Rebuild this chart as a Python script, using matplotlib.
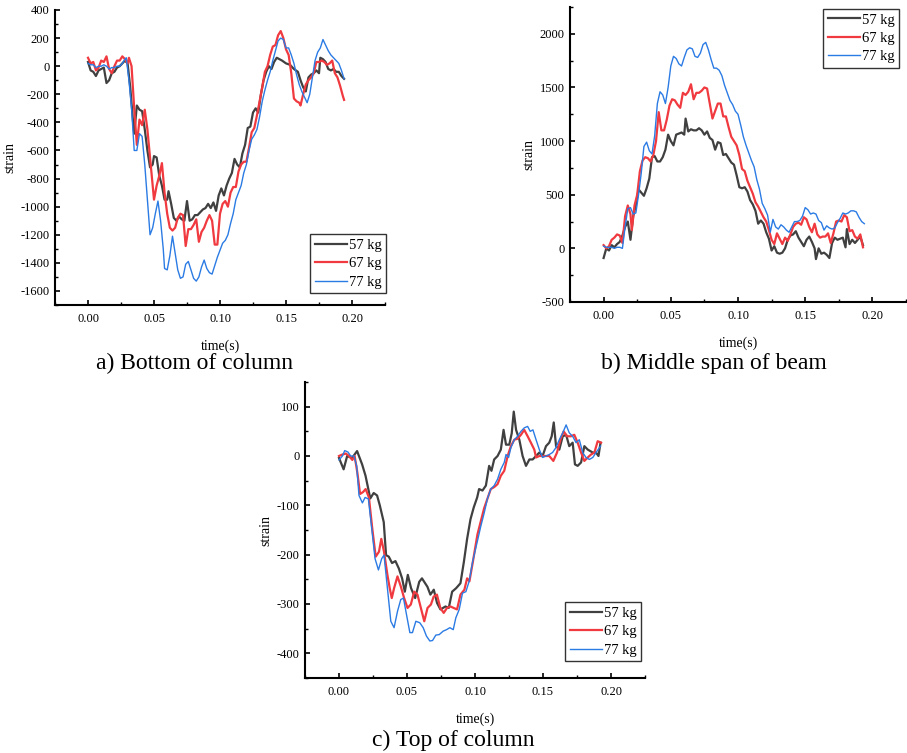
import matplotlib
matplotlib.use("Agg")
import matplotlib.pyplot as plt
import numpy as np

plt.rcParams['font.family'] = ['Liberation Serif', 'DejaVu Serif']
plt.rcParams['axes.unicode_minus'] = False

# ---------------- data (time s, strain) ----------------
bottom_57 = [(0.000,30),(0.002,-30),(0.004,-40),(0.006,-70),(0.008,-30),(0.010,-20),(0.012,-10),(0.014,-120),
             (0.016,-100),(0.018,-50),(0.020,-40),(0.022,-10),(0.024,0),(0.026,20),(0.028,40),(0.030,20),
             (0.032,-150),(0.034,-380),(0.035,-480),(0.037,-280),(0.039,-310),(0.041,-320),(0.043,-450),
             (0.045,-600),(0.047,-720),(0.049,-700),(0.050,-640),(0.052,-650),(0.054,-780),(0.056,-850),
             (0.058,-950),(0.060,-950),(0.061,-890),(0.063,-980),(0.065,-1080),(0.067,-1100),(0.069,-1070),
             (0.071,-1090),(0.073,-1100),(0.075,-960),(0.077,-1100),(0.079,-1090),(0.081,-1060),(0.083,-1060),
             (0.085,-1040),(0.087,-1020),(0.089,-1010),(0.091,-980),(0.093,-1010),(0.095,-970),(0.097,-1030),
             (0.099,-920),(0.101,-870),(0.103,-920),(0.105,-850),(0.107,-800),(0.109,-760),(0.111,-660),
             (0.113,-700),(0.115,-720),(0.117,-620),(0.119,-560),(0.121,-440),(0.123,-430),(0.125,-330),
             (0.127,-300),(0.129,-330),(0.131,-200),(0.133,-100),(0.135,-40),(0.137,0),(0.139,-20),(0.141,30),
             (0.143,60),(0.145,50),(0.147,40),(0.150,20),(0.153,10),(0.156,-20),(0.159,-40),(0.161,-100),
             (0.163,-150),(0.165,-180),(0.167,-80),(0.169,-60),(0.171,-50),(0.173,-30),(0.175,-50),(0.176,60),
             (0.178,50),(0.180,30),(0.182,-20),(0.184,-30),(0.186,-20),(0.188,-40),(0.190,-40),(0.192,-70),
             (0.194,-90)]
bottom_67 = [(0.000,60),(0.002,20),(0.004,30),(0.006,-30),(0.008,-10),(0.010,40),(0.012,30),(0.014,70),
             (0.016,-20),(0.018,-50),(0.020,0),(0.022,40),(0.024,40),(0.026,70),(0.028,50),(0.030,20),
             (0.031,60),(0.033,0),(0.035,-300),(0.037,-560),(0.039,-380),(0.041,-420),(0.043,-310),
             (0.045,-450),(0.047,-650),(0.049,-850),(0.050,-950),(0.052,-850),(0.054,-780),(0.056,-690),
             (0.058,-900),(0.060,-1050),(0.062,-1150),(0.064,-1170),(0.066,-1150),(0.068,-1080),(0.070,-1050),
             (0.072,-1060),(0.074,-1280),(0.076,-1160),(0.078,-1160),(0.080,-1130),(0.082,-1090),(0.084,-1250),
             (0.086,-1180),(0.088,-1150),(0.090,-1100),(0.092,-1060),(0.094,-1100),(0.096,-1270),(0.098,-1270),
             (0.100,-1050),(0.102,-980),(0.104,-960),(0.106,-1000),(0.108,-900),(0.110,-860),(0.112,-860),
             (0.114,-750),(0.116,-700),(0.118,-680),(0.120,-680),(0.122,-580),(0.124,-470),(0.126,-440),
             (0.128,-350),(0.130,-250),(0.132,-150),(0.134,-40),(0.136,0),(0.138,80),(0.140,140),(0.142,150),
             (0.144,220),(0.146,250),(0.148,200),(0.150,120),(0.152,80),(0.154,-50),(0.156,-230),(0.158,-250),
             (0.160,-260),(0.161,-280),(0.163,-200),(0.165,-130),(0.167,-100),(0.169,-80),(0.171,-50),
             (0.173,30),(0.175,30),(0.177,40),(0.179,30),(0.181,10),(0.183,20),(0.185,40),(0.187,-50),
             (0.189,-80),(0.191,-140),(0.193,-210),(0.194,-240)]
bottom_77 = [(0.000,20),(0.002,10),(0.004,10),(0.006,-10),(0.008,0),(0.010,0),(0.012,10),(0.014,0),
             (0.016,-20),(0.018,-10),(0.020,-10),(0.022,0),(0.024,0),(0.026,20),(0.028,50),(0.029,60),
             (0.031,-100),(0.033,-300),(0.035,-600),(0.037,-600),(0.039,-480),(0.041,-500),(0.043,-700),
             (0.045,-950),(0.047,-1200),(0.049,-1150),(0.051,-1050),(0.053,-960),(0.055,-1100),(0.057,-1300),
             (0.058,-1440),(0.060,-1450),(0.062,-1350),(0.064,-1210),(0.066,-1330),(0.068,-1450),(0.070,-1510),
             (0.072,-1500),(0.074,-1410),(0.076,-1390),(0.078,-1450),(0.080,-1510),(0.082,-1530),(0.084,-1500),
             (0.086,-1430),(0.088,-1380),(0.090,-1440),(0.092,-1470),(0.094,-1480),(0.096,-1420),(0.098,-1360),
             (0.100,-1310),(0.102,-1260),(0.104,-1240),(0.106,-1200),(0.108,-1120),(0.110,-1050),(0.112,-950),
             (0.114,-900),(0.116,-850),(0.118,-760),(0.120,-700),(0.122,-600),(0.124,-520),(0.126,-490),
             (0.128,-450),(0.130,-360),(0.132,-250),(0.134,-170),(0.136,-100),(0.138,-40),(0.140,40),
             (0.142,110),(0.144,180),(0.146,200),(0.148,190),(0.150,130),(0.152,130),(0.154,80),(0.156,20),
             (0.158,-60),(0.160,-130),(0.162,-180),(0.164,-220),(0.166,-260),(0.168,-200),(0.170,-80),
             (0.172,40),(0.174,100),(0.176,130),(0.178,190),(0.180,150),(0.182,110),(0.184,80),(0.186,60),
             (0.188,40),(0.190,20),(0.192,-30),(0.194,-90)]

beam_57 = [(0.000,-90),(0.002,0),(0.004,-20),(0.006,30),(0.008,10),(0.010,40),(0.012,60),(0.014,120),
           (0.016,200),(0.018,250),(0.020,80),(0.022,300),(0.024,400),(0.026,550),(0.028,520),(0.030,490),
           (0.032,560),(0.034,650),(0.036,850),(0.038,860),(0.040,810),(0.042,810),(0.044,850),(0.046,920),
           (0.048,1060),(0.050,1000),(0.052,960),(0.054,1060),(0.056,1070),(0.058,1080),(0.060,1060),
           (0.061,1210),(0.063,1090),(0.065,1110),(0.067,1100),(0.069,1100),(0.071,1120),(0.073,1100),
           (0.075,1060),(0.077,1090),(0.079,1030),(0.081,1010),(0.083,920),(0.085,990),(0.087,980),
           (0.089,870),(0.091,880),(0.093,840),(0.095,800),(0.097,780),(0.099,680),(0.101,570),(0.103,560),
           (0.105,570),(0.107,530),(0.109,450),(0.111,410),(0.113,350),(0.115,230),(0.117,260),(0.119,230),
           (0.121,150),(0.123,90),(0.125,-20),(0.127,20),(0.129,-40),(0.131,-50),(0.133,-40),(0.135,0),
           (0.137,80),(0.139,120),(0.141,130),(0.143,160),(0.145,100),(0.147,60),(0.149,20),(0.151,80),
           (0.153,110),(0.155,60),(0.157,0),(0.158,-100),(0.160,0),(0.162,-50),(0.164,-40),(0.166,-60),
           (0.168,-90),(0.170,50),(0.172,100),(0.174,80),(0.176,90),(0.178,100),(0.180,10),(0.181,180),
           (0.183,40),(0.185,80),(0.187,50),(0.189,80),(0.191,110),(0.193,30)]
beam_67 = [(0.000,30),(0.002,0),(0.004,20),(0.006,80),(0.008,100),(0.010,130),(0.012,120),(0.014,50),
           (0.016,300),(0.018,400),(0.020,320),(0.021,170),(0.023,400),(0.025,500),(0.027,720),(0.029,820),
           (0.031,850),(0.033,840),(0.035,810),(0.037,870),(0.039,1000),(0.041,1270),(0.043,1100),
           (0.045,1100),(0.047,1200),(0.049,1330),(0.051,1390),(0.053,1380),(0.055,1340),(0.057,1310),
           (0.059,1450),(0.061,1430),(0.063,1460),(0.065,1530),(0.067,1390),(0.069,1450),(0.071,1450),
           (0.073,1470),(0.075,1500),(0.077,1490),(0.079,1350),(0.081,1210),(0.083,1280),(0.085,1350),
           (0.087,1350),(0.089,1230),(0.091,1230),(0.093,1130),(0.095,1040),(0.097,1000),(0.099,960),
           (0.101,870),(0.103,740),(0.105,720),(0.107,630),(0.109,570),(0.111,510),(0.113,430),(0.115,390),
           (0.117,340),(0.119,290),(0.121,250),(0.123,170),(0.125,80),(0.127,40),(0.129,140),(0.131,90),
           (0.133,40),(0.135,100),(0.137,70),(0.139,130),(0.141,200),(0.143,230),(0.145,240),(0.147,220),
           (0.149,290),(0.151,270),(0.153,200),(0.155,150),(0.157,230),(0.159,130),(0.161,100),(0.163,110),
           (0.165,110),(0.167,140),(0.169,50),(0.171,140),(0.173,250),(0.175,260),(0.177,250),(0.179,310),
           (0.181,290),(0.183,160),(0.185,170),(0.187,110),(0.189,90),(0.191,130),(0.193,10)]
beam_77 = [(0.000,20),(0.002,10),(0.004,10),(0.006,10),(0.008,0),(0.010,10),(0.012,10),(0.014,0),
           (0.016,200),(0.018,370),(0.020,380),(0.022,320),(0.024,330),(0.026,500),(0.028,700),(0.030,950),
           (0.032,990),(0.034,910),(0.036,880),(0.038,1050),(0.040,1350),(0.042,1460),(0.044,1430),
           (0.046,1350),(0.048,1500),(0.050,1700),(0.052,1790),(0.054,1770),(0.056,1720),(0.058,1700),
           (0.060,1780),(0.062,1850),(0.064,1870),(0.066,1860),(0.068,1790),(0.070,1780),(0.072,1820),
           (0.074,1900),(0.076,1920),(0.078,1850),(0.080,1760),(0.082,1680),(0.084,1680),(0.086,1660),
           (0.088,1610),(0.090,1520),(0.092,1450),(0.094,1380),(0.096,1340),(0.098,1280),(0.100,1250),
           (0.102,1150),(0.104,1040),(0.106,960),(0.108,890),(0.110,820),(0.112,760),(0.114,640),(0.116,550),
           (0.118,420),(0.120,370),(0.122,310),(0.124,150),(0.126,270),(0.128,200),(0.130,180),(0.132,220),
           (0.134,200),(0.136,170),(0.138,150),(0.140,200),(0.142,250),(0.144,250),(0.146,260),(0.148,300),
           (0.150,380),(0.152,360),(0.154,320),(0.156,330),(0.158,320),(0.160,260),(0.162,240),(0.164,170),
           (0.166,210),(0.168,190),(0.170,180),(0.172,190),(0.174,240),(0.176,280),(0.178,330),(0.180,320),
           (0.182,330),(0.184,350),(0.186,350),(0.188,340),(0.190,290),(0.192,250),(0.194,230)]

top_57 = [(0.000,-4),(0.0034,-27),(0.006,0),(0.0096,-4),(0.0133,10),(0.017,-17),(0.0195,-40),(0.023,-86),
          (0.0255,-75),(0.028,-80),(0.030,-100),(0.0329,-134),(0.0346,-201),(0.0366,-204),(0.039,-217),
          (0.0415,-213),(0.044,-228),(0.0464,-248),(0.0484,-275),(0.0506,-241),(0.053,-268),(0.056,-288),
          (0.059,-255),(0.061,-248),(0.065,-265),(0.0672,-281),(0.0697,-271),(0.0721,-298),(0.0746,-311),
          (0.0783,-305),(0.0807,-308),(0.0832,-275),(0.0861,-268),(0.0893,-258),(0.0918,-215),(0.0942,-168),
          (0.0967,-128),(0.0991,-104),(0.1016,-84),(0.1030,-67),(0.1055,-70),(0.108,-60),(0.1104,-20),
          (0.1121,-30),(0.1141,-7),(0.1166,0),(0.119,13),(0.121,53),(0.1228,23),(0.1252,23),(0.127,46),
          (0.1285,90),(0.1302,53),(0.1326,33),(0.1350,0),(0.1375,-20),(0.140,-7),(0.1424,-7),(0.1449,0),
          (0.1473,7),(0.1497,0),(0.1522,20),(0.1546,27),(0.1564,40),(0.1579,68),(0.1596,20),(0.162,13),
          (0.1645,40),(0.167,43),(0.1693,20),(0.1718,27),(0.1735,-17),(0.1755,-20),(0.178,-13),(0.1804,20),
          (0.1829,13),(0.1866,7),(0.189,7),(0.1908,0),(0.1923,27)]
top_67 = [(0.000,0),(0.0025,3),(0.005,5),(0.0074,0),(0.0098,-8),(0.0115,0),(0.0135,-34),(0.0155,-77),
          (0.0177,-73),(0.0196,-67),(0.022,-84),(0.0245,-148),(0.027,-204),(0.0294,-194),(0.0311,-168),
          (0.0331,-194),(0.0356,-241),(0.0373,-268),(0.0388,-288),(0.0405,-268),(0.043,-244),(0.0454,-264),
          (0.0479,-288),(0.0504,-308),(0.0528,-301),(0.0553,-275),(0.0577,-281),(0.0602,-308),(0.0627,-335),
          (0.0651,-308),(0.0676,-301),(0.0696,-285),(0.072,-281),(0.0745,-308),(0.077,-318),(0.0794,-308),
          (0.0819,-305),(0.0843,-308),(0.0868,-311),(0.0893,-281),(0.0922,-271),(0.0942,-248),(0.0959,-254),
          (0.0984,-215),(0.1018,-159),(0.1043,-132),(0.1067,-106),(0.1092,-86),(0.1116,-67),(0.1141,-63),
          (0.1166,-57),(0.119,-40),(0.1215,-30),(0.124,0),(0.1264,20),(0.1289,33),(0.1313,35),(0.1338,43),
          (0.1362,53),(0.1387,40),(0.1411,27),(0.1436,13),(0.1449,-3),(0.1473,0),(0.151,0),(0.1546,0),
          (0.1576,-10),(0.1603,7),(0.1628,33),(0.1652,50),(0.1677,40),(0.1706,40),(0.1730,43),(0.1755,27),
          (0.178,7),(0.1804,-10),(0.1829,-3),(0.1853,3),(0.1878,7),(0.1902,30),(0.1927,27)]
top_77 = [(0.000,-8),(0.0025,0),(0.0042,11),(0.0066,8),(0.0086,0),(0.011,0),(0.013,-20),(0.0147,-80),
          (0.0172,-95),(0.0192,-84),(0.0216,-87),(0.0241,-148),(0.0265,-208),(0.029,-231),(0.0314,-208),
          (0.0331,-201),(0.0356,-268),(0.0381,-335),(0.0405,-348),(0.043,-315),(0.0454,-291),(0.0474,-288),
          (0.0496,-321),(0.0521,-358),(0.054,-358),(0.0565,-335),(0.0594,-338),(0.0619,-348),(0.0643,-365),
          (0.0668,-375),(0.0688,-374),(0.0712,-363),(0.0737,-362),(0.0766,-355),(0.0791,-352),(0.0815,-348),
          (0.084,-352),(0.0859,-328),(0.0884,-311),(0.0908,-278),(0.0933,-275),(0.0957,-254),(0.0982,-215),
          (0.1018,-172),(0.1043,-142),(0.1067,-116),(0.1092,-86),(0.1116,-67),(0.1141,-60),(0.1166,-47),
          (0.119,-27),(0.1215,-13),(0.1228,3),(0.1247,-3),(0.1264,17),(0.1289,33),(0.1313,40),(0.1338,50),
          (0.1362,57),(0.1387,60),(0.1406,50),(0.1426,53),(0.1449,33),(0.1473,13),(0.1497,-3),(0.1522,0),
          (0.1546,3),(0.157,7),(0.1595,17),(0.162,33),(0.1645,47),(0.167,63),(0.1693,47),(0.1718,40),
          (0.1743,27),(0.1767,33),(0.1792,7),(0.1816,-3),(0.1841,-7),(0.1866,-3),(0.189,7),(0.1923,20)]

labels = ["57 kg", "67 kg", "77 kg"]
captions = ["a) Bottom of column", "b) Middle span of beam", "c) Top of column"]
xticks = [0.00, 0.05, 0.10, 0.15, 0.20]
xtick_labels = ["0.00", "0.05", "0.10", "0.15", "0.20"]

colors = ["#404040", "#f03a3f", "#2b7be4"]
widths = [1.6, 1.6, 1.0]

W, H = 907, 753
fig = plt.figure(figsize=(W / 100, H / 100), dpi=100)


def px_axes(l, t, r, b):
    return fig.add_axes([l / W, 1 - b / H, (r - l) / W, (b - t) / H])


panels = [
    dict(box=(55, 10, 385, 305), data=[bottom_57, bottom_67, bottom_77], ylim=(-1700, 400),
         yticks=np.arange(-1600, 401, 200), yminor=np.arange(-1700, 401, 100),
         leg=(386, 293, 'lower right'), cap=(195, 363)),
    dict(box=(570, 7, 906, 302), data=[beam_57, beam_67, beam_77], ylim=(-500, 2250),
         yticks=np.arange(-500, 2001, 500), yminor=np.arange(-500, 2251, 250),
         leg=(899, 9, 'upper right'), cap=(714, 363)),
    dict(box=(305, 382, 645, 678), data=[top_57, top_67, top_77], ylim=(-450, 150),
         yticks=np.arange(-400, 101, 100), yminor=np.arange(-450, 151, 50),
         leg=(641, 661, 'lower right'), cap=(453, 740)),
]

for i, p in enumerate(panels):
    ax = px_axes(*p['box'])
    for s, lab, c, lw in zip(p['data'], labels, colors, widths):
        t = [q[0] for q in s]
        v = [q[1] for q in s]
        ax.plot(t, v, color=c, lw=lw, label=lab)
    ax.set_xlim(-0.025, 0.225)
    ax.set_ylim(*p['ylim'])
    ax.set_xticks(xticks)
    ax.set_xticklabels(xtick_labels)
    ax.set_xticks(np.arange(-0.025, 0.226, 0.025), minor=True)
    ax.set_yticks(p['yticks'])
    ax.set_yticks(p['yminor'], minor=True)
    for sp in ['top', 'right']:
        ax.spines[sp].set_visible(False)
    for sp in ['left', 'bottom']:
        ax.spines[sp].set_linewidth(1.5)
    ax.tick_params(which='major', direction='in', length=3.5, width=1.2, labelsize=9)
    ax.tick_params(axis='x', which='major', pad=6)
    ax.tick_params(axis='y', which='major', pad=4)
    ax.tick_params(which='minor', direction='in', length=2, width=1.0)
    ax.set_xlabel("time(s)", fontsize=10, labelpad=10)
    ax.set_ylabel("strain", fontsize=10, labelpad=3)
    lx, ly, loc = p['leg']
    leg = ax.legend(loc=loc, bbox_to_anchor=(lx / W, 1 - ly / H), bbox_transform=fig.transFigure,
                    fontsize=10.5, frameon=True, fancybox=False, borderaxespad=0, handlelength=2.2,
                    handletextpad=0.15, labelspacing=0.35, borderpad=0.3)
    leg.get_frame().set_edgecolor('black')
    leg.get_frame().set_linewidth(1.0)
    cx, cy = p['cap']
    fig.text(cx / W, 1 - cy / H, captions[i], ha='center', va='center', fontsize=17)

fig.savefig("out.png", dpi=100)
